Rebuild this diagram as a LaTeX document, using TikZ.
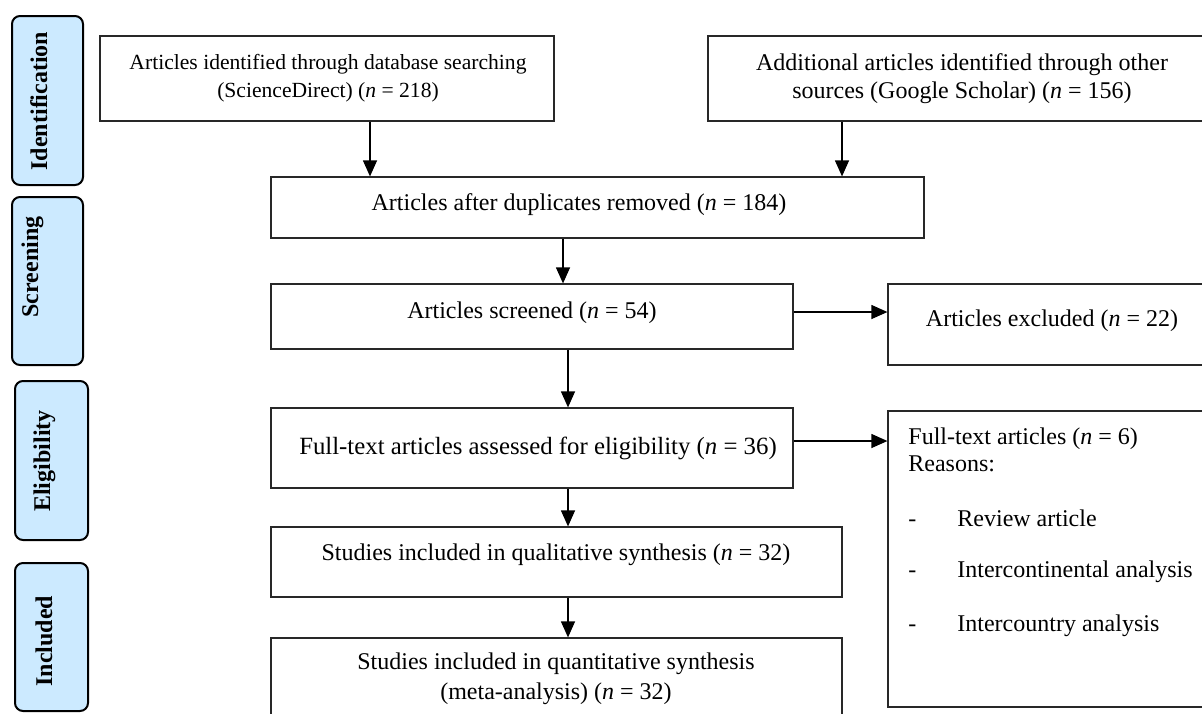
\documentclass[tikz,border=0pt]{standalone}
\usepackage{fontspec}
\setmainfont{Liberation Serif}
\usetikzlibrary{arrows.meta,fit,calc}
\definecolor{sidefill}{RGB}{204,234,255}
\definecolor{boxline}{RGB}{40,40,40}
\begin{document}
\begin{tikzpicture}[x=0.5pt,y=-0.5pt,
  box/.style={draw=boxline, line width=0.6pt, inner sep=0pt, fill=white},
  side/.style={draw=black, line width=1pt, rounded corners=4pt, fill=sidefill, inner sep=0pt},
  sidetxt/.style={font=\fontsize{12}{14}\selectfont\bfseries, rotate=90, anchor=base, inner sep=0pt},
  txt/.style={font=\fontsize{12}{14}\selectfont, align=center, inner sep=0pt},
  ltxt/.style={font=\fontsize{12}{14}\selectfont, anchor=west, inner sep=0pt, text height=8.5pt, text depth=2.5pt},
  arr/.style={-{Triangle[length=8pt,width=7pt]}, line width=0.6pt, black}]
\useasboundingbox (0,0) rectangle (1202,713);
\clip (0,0) rectangle (1202,713);
% phase labels
\node[side, fit={(12,16) (83,185)}] (sid) {};
\node[sidetxt] (sidt) at (47,101) {Identification};
\node[side, fit={(12,197) (83,365)}] (ssc) {};
\node[sidetxt] (ssct) at (38,267) {Screening};
\node[side, fit={(15,381) (88,540)}] (sel) {};
\node[sidetxt] (selt) at (50,461) {Eligibility};
\node[side, fit={(15,563) (88,711)}] (sin) {};
\node[sidetxt] (sint) at (52,641) {Included};
% boxes
\node[box, fit={(100,36) (554,121)}] (A) {};
\node[txt, font=\fontsize{10.8}{14}\selectfont] (At) at (328,78) {Articles identified through database searching\\(ScienceDirect) (\textit{n} = 218)};
\node[box, fit={(708,36) (1217,121)}] (B) {};
\node[txt] (Bt) at (962,79) {Additional articles identified through other\\sources (Google Scholar) (\textit{n} = 156)};
\node[box, fit={(271,177) (924,238)}] (C) {};
\node[txt] (Ct) at (579,205) {Articles after duplicates removed (\textit{n} = 184)};
\node[box, fit={(271,284) (793,349)}] (D) {};
\node[txt] (Dt) at (532,313) {Articles screened (\textit{n} = 54)};
\node[box, fit={(888,284) (1217,365)}] (X) {};
\node[txt] (Xt) at (1052,321) {Articles excluded (\textit{n} = 22)};
\node[box, fit={(271,408) (793,488)}] (E) {};
\node[txt, font=\fontsize{12.4}{14}\selectfont] (Et) at (538,448) {Full-text articles assessed for eligibility (\textit{n} = 36)};
\node[box, fit={(888,411) (1217,707)}] (R) {};
\node[ltxt] (R1) at (908,438) {Full-text articles (\textit{n} = 6)};
\node[ltxt] (R2) at (908,465) {Reasons:};
\node[ltxt] (R3d) at (908,520) {-};
\node[ltxt] (R3) at (957,520) {Review article};
\node[ltxt] (R4d) at (908,571) {-};
\node[ltxt] (R4) at (957,571) {Intercontinental analysis};
\node[ltxt] (R5d) at (908,625) {-};
\node[ltxt] (R5) at (957,625) {Intercountry analysis};
\node[box, fit={(271,527) (842,597)}] (F) {};
\node[txt] (Ft) at (556,555) {Studies included in qualitative synthesis (\textit{n} = 32)};
\node[box, fit={(271,638) (842,730)}] (G) {};
\node[txt, font=\fontsize{12}{15}\selectfont] (Gt) at (556,679) {Studies included in quantitative synthesis\\(meta-analysis) (\textit{n} = 32)};
% connectors
\coordinate (xa) at (370,0);
\coordinate (xb) at (842,0);
\coordinate (xc) at (563,0);
\coordinate (xd) at (568,0);
\coordinate (ya) at (0,312);
\coordinate (yb) at (0,441);
\draw[arr] (A.south -| xa) -- (C.north -| xa);
\draw[arr] (B.south -| xb) -- (C.north -| xb);
\draw[arr] (C.south -| xc) -- (D.north -| xc);
\draw[arr] (D.east |- ya) -- (X.west |- ya);
\draw[arr] (D.south -| xd) -- (E.north -| xd);
\draw[arr] (E.east |- yb) -- (R.west |- yb);
\draw[arr] (E.south -| xd) -- (F.north -| xd);
\draw[arr] (F.south -| xd) -- (G.north -| xd);
\end{tikzpicture}
\end{document}
